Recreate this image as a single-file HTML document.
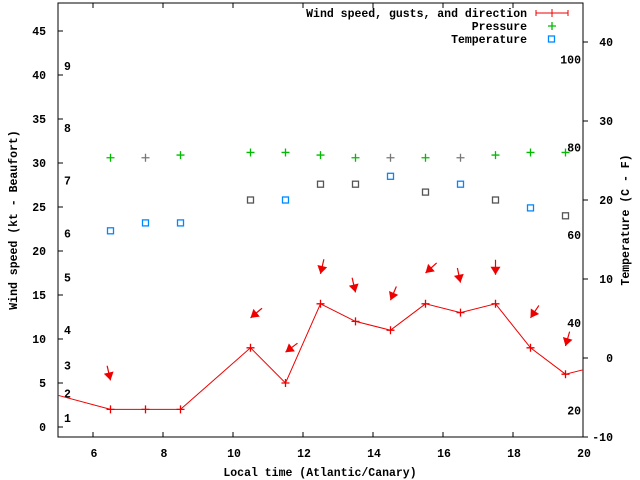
<!DOCTYPE html>
<html><head><meta charset="utf-8"><style>
html,body{margin:0;padding:0;background:#fff;}
svg{display:block;font-family:"Liberation Mono",monospace;font-weight:bold;font-size:11.5px;}
</style></head><body>
<svg id="chart" width="640" height="480" viewBox="0 0 640 480" xmlns="http://www.w3.org/2000/svg">
<rect x="0" y="0" width="640" height="480" fill="#fff"/>
<g id="axes"></g>
<g id="marks"></g>
<g id="legend">
  <text x="527" y="17" text-anchor="end">Wind speed, gusts, and direction</text>
  <line x1="536" y1="13" x2="568" y2="13" stroke="#e00" stroke-width="1"/>
  <line x1="536" y1="10" x2="536" y2="16" stroke="#e00"/><line x1="568" y1="10" x2="568" y2="16" stroke="#e00"/><line x1="552" y1="9" x2="552" y2="17" stroke="#e00"/>
  <text x="527" y="30" text-anchor="end">Pressure</text>
  <path d="M548 26h8M552 22v8" stroke="#0b0" stroke-width="1.3"/>
  <text x="527" y="43" text-anchor="end">Temperature</text>
  <rect x="548.5" y="36" width="6" height="6" fill="none" stroke="#08f" stroke-width="1.3"/>
</g>
</svg>
<script>
const hours = [6.5,7.5,8.5,10.5,11.5,12.5,13.5,14.5,15.5,16.5,17.5,18.5,19.5];
const windLineHours = [5,6.5,7.5,8.5,10.5,11.5,12.5,13.5,14.5,15.5,16.5,17.5,18.5,19.5,20];
const windSpeed = [3.6,2,2,2,9,5,14,12,11,14,13,14,9,6,6.5];
const gusts = [5.3,2,2,2,12.4,8.5,17.4,15.3,14.4,17.5,16.4,17.3,12.4,9.2];
const gustHours = [6.5,null,null,null,10.5,11.5,12.5,13.5,14.5,15.5,16.5,17.5,18.5,19.5];
const windDir = [347,0,0,0,50,53,13,347,23,48,348,0,34,16];
const pressure = [30.6,30.6,30.9,31.2,31.2,30.9,30.6,30.6,30.6,30.6,30.9,31.2,31.2];
const pressureGray = [0,1,0,0,0,0,0,1,0,1,0,0,0];
const temperature = [16.1,17.1,17.1,20,20,22,22,23,21,22,20,19,18];
const tempGray = [0,0,0,1,0,1,1,0,1,0,1,0,1];
const xTicks = [6,8,10,12,14,16,18,20];
const yTicks = [0,5,10,15,20,25,30,35,40,45];
const y2Ticks = [-10,0,10,20,30,40];
const beaufort = [1,2,3,4,5,6,7,8,9];
const beaufortKt = [1,3.8,7,11,17,22,28,34,41];
const fahrenheit = [20,40,60,80,100];

const L=58,R=583,T=3,B=437;
const X=h=>L+(h-5)*35;
const Y=v=>427-v*8.8;
const Y2=c=>437-(c+10)*7.9;
const NS='http://www.w3.org/2000/svg';
function mk(tag,attrs,parent,txt){const e=document.createElementNS(NS,tag);for(const k in attrs)e.setAttribute(k,attrs[k]);if(txt!==undefined)e.textContent=txt;parent.appendChild(e);return e;}
const ax=document.getElementById('axes'), mg=document.getElementById('marks');

let frame=mk('rect',{x:L,y:T,width:R-L,height:B-T,fill:'none',stroke:'#000','stroke-width':1},ax);


xTicks.forEach(t=>{
  const x=X(t);
  mk('line',{x1:x,y1:B,x2:x,y2:B-5,stroke:'#000'},ax);
  mk('line',{x1:x,y1:T,x2:x,y2:T+5,stroke:'#000'},ax);
  const tx=mk('text',{x:x+1,y:B+20,'text-anchor':'middle'},ax,String(t));
  
  
});
yTicks.forEach(t=>{
  const y=Y(t);
  mk('line',{x1:L,y1:y,x2:L+5,y2:y,stroke:'#000'},ax);
  const tx=mk('text',{x:L-12,y:y+4,'text-anchor':'end'},ax,String(t));
  
  
});
y2Ticks.forEach(t=>{
  const y=Y2(t);
  mk('line',{x1:R,y1:y,x2:R+5,y2:y,stroke:'#000'},ax);
  const tx=mk('text',{x:R+30,y:y+4,'text-anchor':'end'},ax,String(t));
  
  
});
beaufort.forEach((b,i)=>{
  const tx=mk('text',{x:64,y:Y(beaufortKt[i])+4},ax,String(b));
  
  
});
fahrenheit.forEach(f=>{
  const tx=mk('text',{x:581,y:Y2((f-32)*5/9)+4,'text-anchor':'end'},ax,String(f));
  
  
});
let xt=mk('text',{x:320,y:476,'text-anchor':'middle'},ax,'Local time (Atlantic/Canary)');


let yt=mk('text',{x:0,y:0,'text-anchor':'middle',transform:'translate(17,220) rotate(-90)'},ax,'Wind speed (kt - Beaufort)');


let y2t=mk('text',{x:0,y:0,'text-anchor':'middle',transform:'translate(629,220) rotate(-90)'},ax,'Temperature (C - F)');



let pts=windLineHours.map((h,i)=>X(h)+','+Y(windSpeed[i])).join(' ');
let wl=mk('polyline',{points:pts,fill:'none',stroke:'#e00','stroke-width':1},mg);


windLineHours.forEach((h,i)=>{
  if(h===5||h===20)return;
  const x=X(h),y=Y(windSpeed[i]);
  const p=mk('path',{d:`M${x-4} ${y}h8M${x} ${y-4}v8`,stroke:'#e00','stroke-width':1.3},mg);
  
  
});
gustHours.forEach((h,i)=>{
  if(h===null)return;
  const d=windDir[i]*Math.PI/180;
  const vx=-Math.sin(d), vy=Math.cos(d);
  const hx=X(h), hy=Y(gusts[i]);
  const tx=hx-vx*15, ty=hy-vy*15;
  const g=mk('g',{},mg);
  
  
  mk('line',{x1:tx,y1:ty,x2:hx,y2:hy,stroke:'#e00','stroke-width':1.2},g);
  const px=-vy,py=vx;
  const bx=hx-vx*8, by=hy-vy*8;
  mk('polygon',{points:`${hx},${hy} ${bx+px*5},${by+py*5} ${bx-px*5},${by-py*5}`,fill:'#e00'},g);
});
hours.forEach((h,i)=>{
  const x=X(h),y=Y(pressure[i]);
  const p=mk('path',{d:`M${x-4} ${y}h8M${x} ${y-4}v8`,stroke:pressureGray[i]?'#777':'#0b0','stroke-width':1.3},mg);
  
  
});
hours.forEach((h,i)=>{
  const x=X(h),y=Y2(temperature[i]);
  const r=mk('rect',{x:x-3,y:y-3,width:6,height:6,fill:'none',stroke:tempGray[i]?'#555':'#08f','stroke-width':1.3},mg);
  
  
});
</script>
</body></html>
